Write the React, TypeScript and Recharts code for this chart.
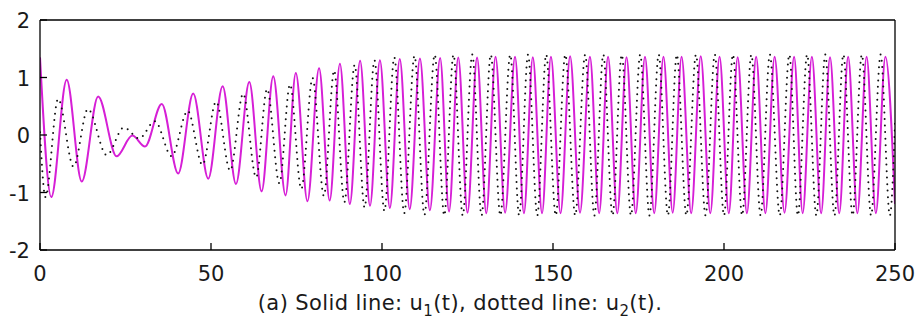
import { LineChart, Line, XAxis, YAxis } from 'recharts';

// extrema of u1(t) (solid magenta)
const u1T = [
  0, 3.3, 7.8, 12.2, 17.0, 22.4, 27.0, 30.7, 35.6, 40.4, 44.8, 49.2, 53.4, 57.3, 61.2, 64.8,
  68.2, 71.8, 74.8, 78.2, 81.6, 84.7, 87.7, 90.6, 93.6, 96.5, 99.4, 102.3, 105.2, 108.1,
  111.1, 114.0, 117.0, 119.6, 122.3, 125.0, 127.8, 130.5, 133.2, 136.0, 138.9, 141.5, 144.1,
  146.8, 149.4, 152.2, 155.0, 157.9, 160.8, 163.5, 166.1, 168.8, 171.5, 174.2, 176.9, 179.6,
  182.3, 185.0, 187.6, 190.4, 193.2, 196.0, 198.7, 201.4, 204.0, 206.7, 209.4, 212.1, 214.8,
  217.7, 220.5, 223.0, 225.7, 228.4, 231.0, 233.7, 236.3, 239.0, 241.7, 244.4, 247.2, 250,
];
const u1V = [
  1.35, -1.08, 0.96, -0.81, 0.67, -0.37, -0.01, -0.2, 0.54, -0.67, 0.72, -0.76, 0.85, -0.85,
  0.92, -0.98, 1.02, -1.05, 1.08, -1.15, 1.16, -1.14, 1.24, -1.2, 1.29, -1.23, 1.3, -1.27,
  1.32, -1.29, 1.33, -1.31, 1.34, -1.33, 1.35, -1.35, 1.35, -1.36, 1.36, -1.35, 1.36, -1.36,
  1.35, -1.36, 1.36, -1.36, 1.37, -1.35, 1.36, -1.36, 1.36, -1.36, 1.35, -1.36, 1.36, -1.36,
  1.36, -1.35, 1.36, -1.36, 1.37, -1.36, 1.36, -1.36, 1.35, -1.36, 1.36, -1.36, 1.36, -1.35,
  1.36, -1.36, 1.36, -1.36, 1.35, -1.36, 1.36, -1.36, 1.36, -1.36, 1.36, -1.2,
];

// extrema of u2(t) (dotted black)
const u2T = [
  0, 1.6, 5.3, 9.8, 14.0, 19.5, 24.5, 29.0, 33.6, 38.5, 43.2, 47.5, 51.5, 55.6, 59.4, 63.2,
  66.4, 70.0, 73.1, 76.4, 79.7, 83.0, 86.0, 89.0, 92.0, 94.9, 97.8, 100.7, 103.6, 106.5,
  109.5, 112.4, 115.4, 118.2, 120.9, 123.6, 126.4, 129.1, 131.8, 134.6, 137.5, 140.1, 142.7,
  145.4, 148.0, 150.8, 153.6, 156.5, 159.4, 162.1, 164.7, 167.4, 170.1, 172.8, 175.5, 178.2,
  180.9, 183.6, 186.2, 189.0, 191.8, 194.6, 197.3, 200.0, 202.6, 205.3, 208.0, 210.7, 213.4,
  216.3, 219.1, 221.6, 224.3, 227.0, 229.6, 232.3, 234.9, 237.6, 240.3, 243.0, 245.8, 248.5, 250,
];
const u2V = [
  0.05, -1.08, 0.63, -0.55, 0.45, -0.35, 0.13, -0.06, 0.24, -0.37, 0.42, -0.52, 0.58, -0.62,
  0.72, -0.74, 0.8, -0.84, 0.88, -0.94, 0.99, -1.06, 1.12, -1.17, 1.22, -1.26, 1.3, -1.32,
  1.35, -1.36, 1.38, -1.39, 1.4, -1.4, 1.4, -1.4, 1.4, -1.4, 1.4, -1.4, 1.4, -1.4, 1.4, -1.4,
  1.4, -1.4, 1.4, -1.4, 1.4, -1.4, 1.4, -1.4, 1.4, -1.4, 1.4, -1.4, 1.4, -1.4, 1.4, -1.4,
  1.4, -1.4, 1.4, -1.4, 1.4, -1.4, 1.4, -1.4, 1.4, -1.4, 1.4, -1.4, 1.4, -1.4, 1.4, -1.4,
  1.4, -1.4, 1.4, -1.4, 1.4, -1.4, 0.2,
];

const xTicks = [0, 50, 100, 150, 200, 250];
const yTicks = [-2, -1, 0, 1, 2];

const u1Data = u1T.map((t, i) => ({ t, v: u1V[i] }));
const u2Data = u2T.map((t, i) => ({ t, v: u2V[i] }));

const FONT = '"DejaVu Sans", sans-serif';

// MATLAB-style ticks: short marks pointing into the box
const BottomTick = (props: any) => {
  const { x, y, payload } = props;
  return (
    <g>
      <line x1={x} y1={y} x2={x} y2={y - 7} stroke="#000" strokeWidth={1.3} />
      <text x={x} y={y + 31} textAnchor="middle" fontSize={21} fill="#1a1a1a" fontFamily={FONT}>
        {payload.value}
      </text>
    </g>
  );
};

const TopTick = (props: any) => {
  const { x, y } = props;
  return <line x1={x} y1={y} x2={x} y2={y + 7} stroke="#000" strokeWidth={1.3} />;
};

const LeftTick = (props: any) => {
  const { x, y, payload } = props;
  return (
    <g>
      <line x1={x} y1={y} x2={x + 7} y2={y} stroke="#000" strokeWidth={1.3} />
      <text x={x - 10} y={y + 8} textAnchor="end" fontSize={21} fill="#1a1a1a" fontFamily={FONT}>
        {payload.value}
      </text>
    </g>
  );
};

const RightTick = (props: any) => {
  const { x, y } = props;
  return <line x1={x} y1={y} x2={x - 7} y2={y} stroke="#000" strokeWidth={1.3} />;
};

export default function App() {
  return (
    <div style={{ position: 'relative', width: 915, height: 325, background: '#fff' }}>
      <style>{'body{margin:0}'}</style>
      <LineChart
        width={915}
        height={325}
        margin={{ top: 19, right: 19, bottom: 74, left: 39 }}
      >
        <XAxis
          dataKey="t"
          type="number"
          domain={[0, 250]}
          ticks={xTicks}
          interval={0}
          allowDataOverflow
          height={1}
          tickSize={0}
          tickMargin={0}
          tickLine={false}
          axisLine={{ stroke: '#000', strokeWidth: 1.3 }}
          tick={BottomTick}
        />
        <XAxis
          xAxisId="top"
          orientation="top"
          dataKey="t"
          type="number"
          domain={[0, 250]}
          ticks={xTicks}
          interval={0}
          height={1}
          tickSize={0}
          tickMargin={0}
          tickLine={false}
          axisLine={{ stroke: '#000', strokeWidth: 1.3 }}
          tick={TopTick}
        />
        <YAxis
          type="number"
          domain={[-2, 2]}
          ticks={yTicks}
          interval={0}
          allowDataOverflow
          width={1}
          tickSize={0}
          tickMargin={0}
          tickLine={false}
          axisLine={{ stroke: '#000', strokeWidth: 1.3 }}
          tick={LeftTick}
        />
        <YAxis
          yAxisId="r"
          orientation="right"
          type="number"
          domain={[-2, 2]}
          ticks={yTicks}
          interval={0}
          width={1}
          tickSize={0}
          tickMargin={0}
          tickLine={false}
          axisLine={{ stroke: '#000', strokeWidth: 1.3 }}
          tick={RightTick}
        />
        <Line
          data={u1Data}
          dataKey="v"
          type="monotone"
          stroke="#d61fd6"
          strokeWidth={2}
          dot={false}
          isAnimationActive={false}
        />
        <Line
          data={u2Data}
          dataKey="v"
          type="monotone"
          stroke="#111"
          strokeWidth={2}
          strokeDasharray="0 6.5"
          strokeLinecap="round"
          dot={false}
          isAnimationActive={false}
        />
      </LineChart>
      <svg
        width={915}
        height={325}
        style={{ position: 'absolute', left: 0, top: 0, pointerEvents: 'none' }}
      >
        <text
          x={460}
          y={310}
          textAnchor="middle"
          fontSize={21}
          letterSpacing={0.4}
          fill="#1a1a1a"
          fontFamily={FONT}
        >
          (a) Solid line: u
          <tspan dy={6} fontSize={15}>1</tspan>
          <tspan dy={-6}>(t), dotted line: u</tspan>
          <tspan dy={6} fontSize={15}>2</tspan>
          <tspan dy={-6}>(t).</tspan>
        </text>
      </svg>
    </div>
  );
}
